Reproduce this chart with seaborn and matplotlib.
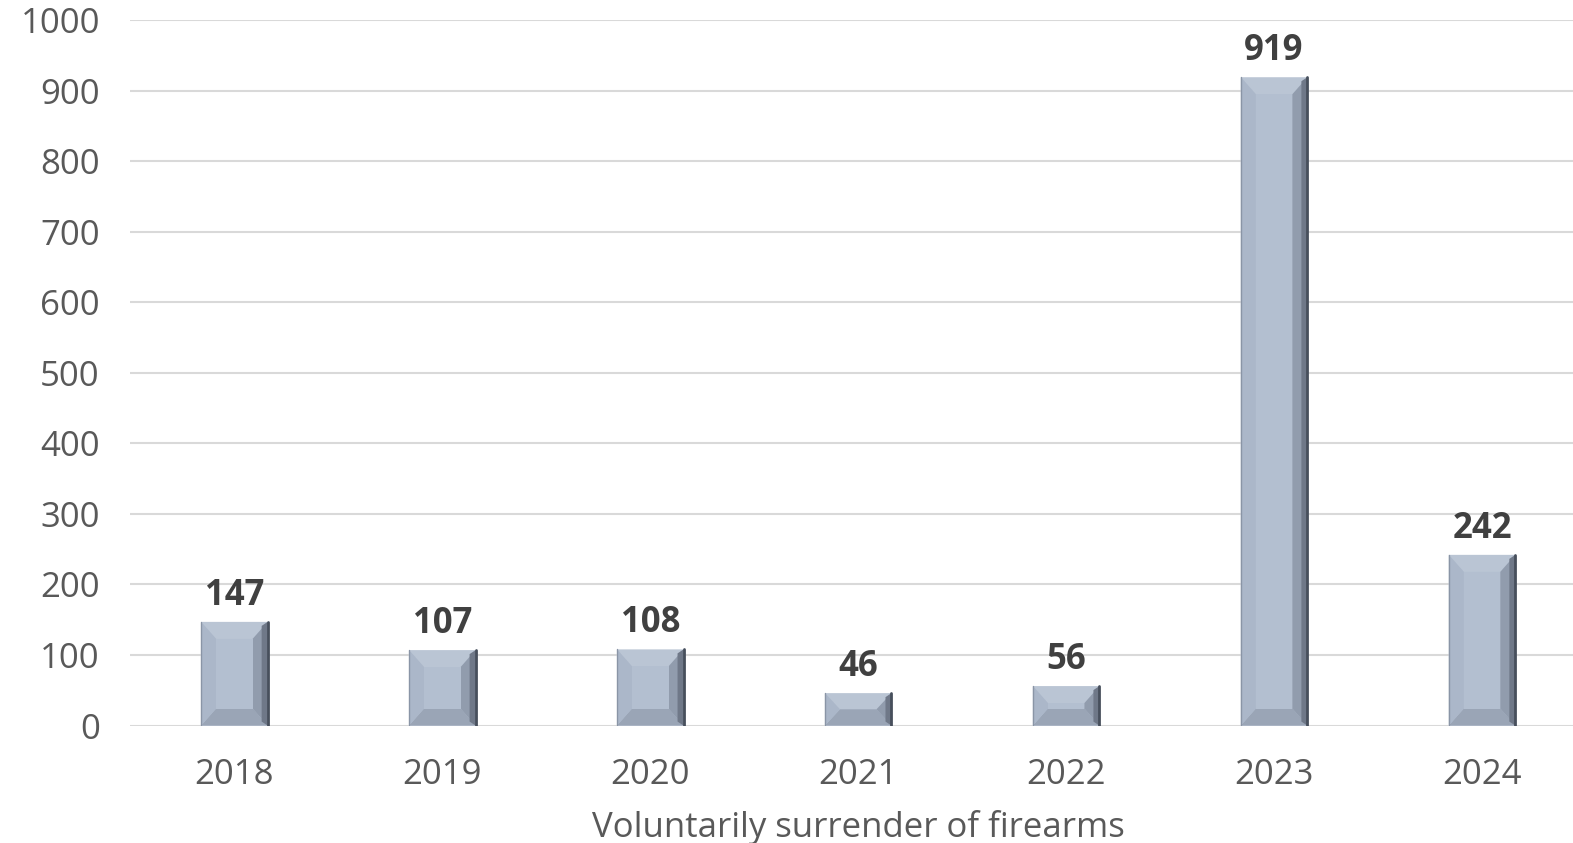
import pandas as pd
import numpy as np
import matplotlib.pyplot as plt
import seaborn as sns

# data
years = ["2018", "2019", "2020", "2021", "2022", "2023", "2024"]
surrendered = [147, 107, 108, 46, 56, 919, 242]
y_ticks = [0, 100, 200, 300, 400, 500, 600, 700, 800, 900, 1000]
x_title = "Voluntarily surrender of firearms"

df = pd.DataFrame({"year": years, "count": surrendered})

sns.set_style("white")
plt.rcParams["font.family"] = ["Open Sans", "DejaVu Sans"]

fig = plt.figure(figsize=(15.73, 8.43), dpi=100)
ax = fig.add_axes([130 / 1568, 117 / 840, 1451 / 1568, 703 / 840])

sns.barplot(data=df, x="year", y="count", color="#b3bfd0", width=0.32,
            saturation=1, ax=ax, zorder=3)

ax.set_ylim(0, 1000)
ax.set_xlim(-0.5, 6.5)
ax.set_yticks(y_ticks)
ax.grid(axis="y", color="#d9d9d9", linewidth=1.5, zorder=0)
ax.set_axisbelow(True)
sns.despine(ax=ax, left=True, bottom=True)
ax.tick_params(axis="both", length=0, labelsize=25, labelcolor="#595959")
ax.tick_params(axis="y", pad=22)
ax.tick_params(axis="x", pad=23)
ax.set_ylabel("")
ax.set_xlabel(x_title, fontsize=25, color="#595959", labelpad=13)

# bevel shading on each bar, sized in pixels
fig.canvas.draw()
inv = ax.transData.inverted()
for p in ax.patches:
    x0, y0 = p.get_x(), p.get_y()
    w, h = p.get_width(), p.get_height()
    (px0, py0) = ax.transData.transform((x0, y0))
    (px1, py1) = ax.transData.transform((x0 + w, y0 + h))
    b = min(15, (py1 - py0) / 2, (px1 - px0) / 2)
    bh = min(17, (py1 - py0) / 2)
    pts = {
        "bl": (px0, py0), "br": (px1, py0), "tr": (px1, py1), "tl": (px0, py1),
        "ibl": (px0 + b, py0 + bh), "ibr": (px1 - b, py0 + bh),
        "itr": (px1 - b, py1 - bh), "itl": (px0 + b, py1 - bh),
    }
    faces = [
        (["tl", "tr", "itr", "itl"], "#bac5d4"),
        (["bl", "br", "ibr", "ibl"], "#9aa5b6"),
        (["bl", "ibl", "itl", "tl"], "#abb7c9"),
        (["br", "tr", "itr", "ibr"], "#919cad"),
        (["ibl", "ibr", "itr", "itl"], "#b3bfd0"),
    ]
    for keys, col in faces:
        d = inv.transform(np.array([pts[k] for k in keys]))
        ax.fill(d[:, 0], d[:, 1], color=col, lw=0, zorder=4)
    # darker strip near the right edge
    strip = [(px1 - 6, py0 + 4), (px1, py0), (px1, py1), (px1 - 6, py1 - 4)]
    d = inv.transform(np.array(strip))
    ax.fill(d[:, 0], d[:, 1], color="#6f7888", lw=0, zorder=4)
    edge = inv.transform(np.array([pts["br"], pts["tr"]]))
    ax.plot(edge[:, 0], edge[:, 1], color="#474f5c", lw=2, zorder=5)
    edge = inv.transform(np.array([pts["bl"], pts["tl"]]))
    ax.plot(edge[:, 0], edge[:, 1], color="#8a95a6", lw=1, zorder=5)
    ax.annotate(f"{int(round(h))}", (x0 + w / 2, h), xytext=(0, 6),
                textcoords="offset points", ha="center", va="bottom",
                fontsize=25, fontweight="bold", color="#404040", zorder=6)

fig.savefig("out.png", dpi=100)
